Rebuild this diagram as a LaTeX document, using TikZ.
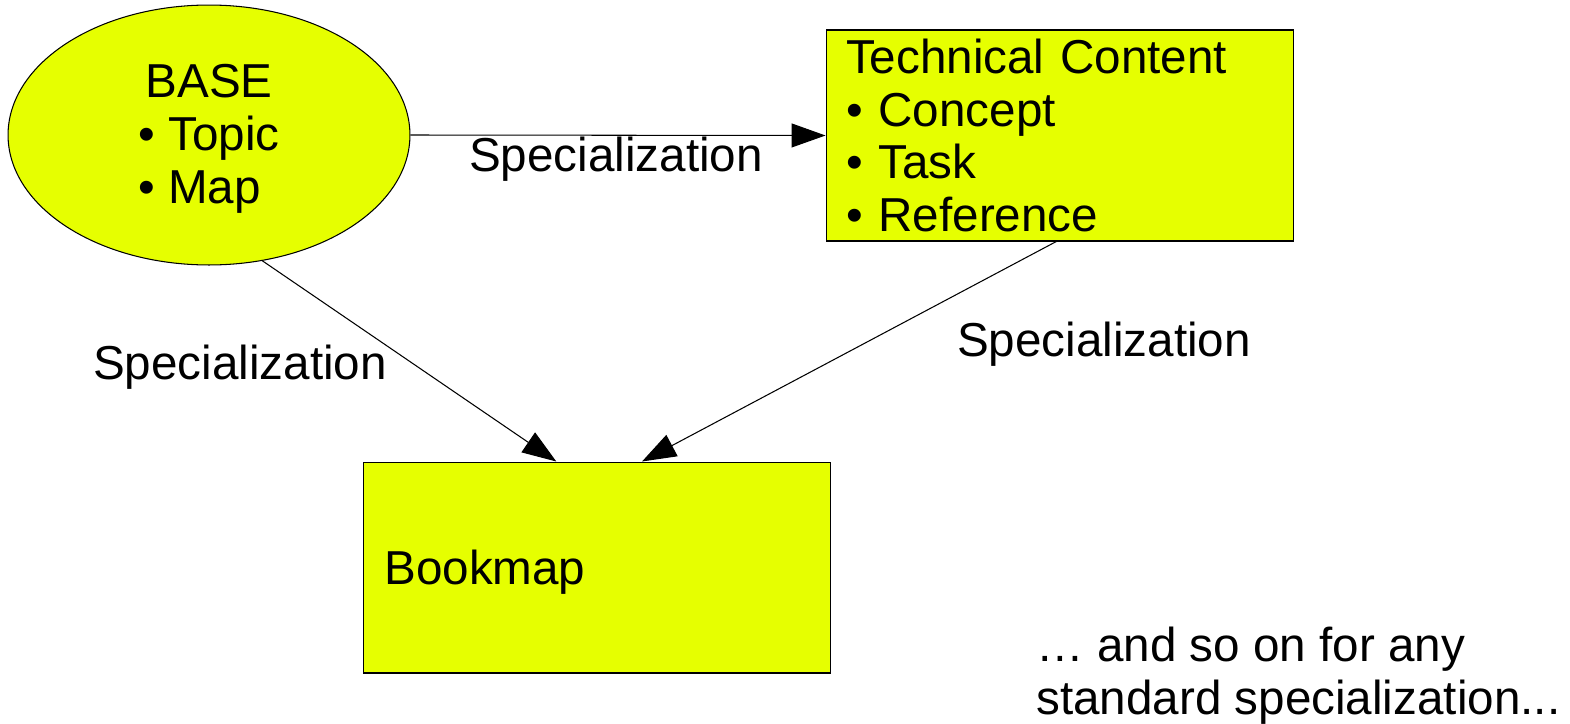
\documentclass[tikz,border=0pt]{standalone}
\usepackage{fontspec}
\setmainfont{Liberation Sans}
\usetikzlibrary{shapes.geometric,arrows.meta}
\definecolor{spyellow}{HTML}{E6FF00}
\begin{document}
\begin{tikzpicture}[x=0.02cm,y=-0.02cm,
    every node/.style={font=\fontsize{27.1}{30}\selectfont, inner sep=0pt},
    box/.style={draw=black, fill=spyellow, line width=0.6pt, minimum width=9.36cm,
      minimum height=4.22cm, text width=8.56cm, inner xsep=0.4cm, align=left},
    spec/.style={-{Triangle[length=0.68cm,width=0.48cm]}, line width=0.6pt}]
  % page frame
  \useasboundingbox (0,0) rectangle (1570,724);

  %% the shapes
  \node[ellipse, draw=black, fill=spyellow, line width=0.6pt, minimum width=8.04cm,
    minimum height=5.2cm] (base) at (209,135) {};
  \node (baseText) at (209,140)
    {\begin{tabular}{@{}l@{}}\multicolumn{1}{@{}c@{}}{BASE}\\• Topic\\• Map\end{tabular}};
  \node[box] (tech) at (1060,135.5)
    {Technical Content\\• Concept\\• Task\\• Reference};
  \node[box] (book) at (597,567.5) {};
  \node[anchor=west] (bookText) at (384,572) {Bookmap};

  %% the arrows
  \draw[spec] (base.east) -- (tech.west);
  \draw[spec] (base.-67.5) -- (book.111.7);
  \draw[spec] (tech.-92.7) -- (book.67.8);

  \node (specTop) at (616,159) {Specialization};
  \node (specLeft) at (240,367) {Specialization};
  \node (specRight) at (1104,344) {Specialization};

  \node[anchor=west, align=left] (more) at (1036,676)
    {… and so on for any\\standard specialization...};
\end{tikzpicture}
\end{document}
